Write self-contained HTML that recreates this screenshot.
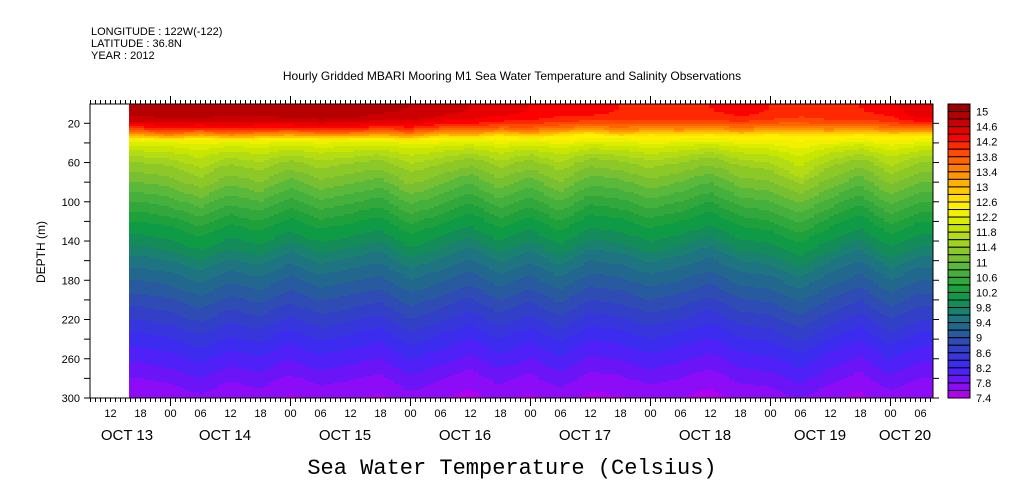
<!DOCTYPE html>
<html><head><meta charset="utf-8">
<style>
body{margin:0;background:#fff;}
svg{display:block;font-family:"Liberation Sans",sans-serif;}
</style></head>
<body>
<svg id="chart" width="1009" height="504" viewBox="0 0 1009 504" xmlns="http://www.w3.org/2000/svg">
<rect x="0" y="0" width="1009" height="504" fill="#fff"/>
<text x="91" y="35" font-size="11">LONGITUDE : 122W(-122)</text>
<text x="91" y="47" font-size="11">LATITUDE : 36.8N</text>
<text x="91" y="59" font-size="11">YEAR : 2012</text>
<text x="512" y="80" font-size="12" text-anchor="middle">Hourly Gridded MBARI Mooring M1 Sea Water Temperature and Salinity Observations</text>
<text transform="translate(45,252) rotate(-90)" font-size="12" text-anchor="middle">DEPTH (m)</text>
<text x="512" y="474" font-family="Liberation Mono, monospace" font-size="22" text-anchor="middle">Sea Water Temperature (Celsius)</text>
<g id="heat"></g>
<g id="axes"></g>
<g id="cbar"></g>
</svg>
<script>
// ---- data ----
// time samples: hours since Oct 13 00:00, every 6 h
var sampleHours = [12,18,24,30,36,42,48,54,60,66,72,78,84,90,96,102,108,114,120,126,132,138,144,150,156,162,168,174,180];
// vertical isotherm displacement (m, positive = deeper)
var isoShift = [0,0,5,16,3,10,-4,8,2,-5,13,3,-9,7,-5,10,-7,-3,7,0,-10,5,9,22,6,-7,13,0,0];
// surface temperature (C)
var surfaceTemp = [14.9,14.9,14.95,14.95,14.9,14.9,14.95,15.0,14.95,14.85,14.8,14.7,14.6,14.5,14.4,14.3,14.3,14.2,14.2,14.2,14.2,14.3,14.2,14.1,14.2,14.2,14.3,14.6,14.6];
// mixed layer depth (m)
var mixedDepth = [36,36,38,36,38,37,36,37,37,36,38,35,36,34,36,34,32,35,33,34,33,34,33,34,34,33,34,33,33];
// deep profile depths (m) and temperatures (C)
var profDepth = [36,45,60,80,100,120,140,160,180,200,220,240,260,280,300,330];
var profTemp = [12.4,11.9,11.4,11.0,10.6,10.2,9.9,9.5,9.2,8.9,8.6,8.3,8.05,7.8,7.6,7.3];
// colour levels
var levelLabels = ["15","14.6","14.2","13.8","13.4","13","12.6","12.2","11.8","11.4","11","10.6","10.2","9.8","9.4","9","8.6","8.2","7.8","7.4"];
var depthTicks = [20,60,100,140,180,220,260,300];
var dateLabels = ["OCT 13","OCT 14","OCT 15","OCT 16","OCT 17","OCT 18","OCT 19","OCT 20"];
var dateLabelX = [127,225,345,465,585,705,820,905];
var palette = ["#9b0000","#b40000","#cc0000","#e60000","#ff0000","#ff2800","#ff4a00","#ff6400","#ff8000","#ff9600","#ffb000","#ffc800","#ffe000","#fff000","#f0f000","#dcee00","#c8e600","#b4dc14","#a0d21e","#8cc828","#78c032","#5ab83a","#46b03c","#32a83c","#1ea03c","#0f9a46","#148c5a","#1a8070","#1e7480","#22688e","#285aa0","#2e4cb4","#3240c8","#3636dc","#3c2cf0","#5020f8","#6c14f8","#8c0cf8","#b000f0"];

// ---- axes ----
var X0=90,X1=933,Y0=104,Y1=398;
var hour0 = 8;
function xOf(h){return X0+(h-hour0)*5;}
function yOf(d){return 123.3+(d-20)*(Y1-123.3)/280;}
function dOf(y){return 20+(y-123.3)*280/(Y1-123.3);}
var NS="http://www.w3.org/2000/svg";
function mk(tag,attrs,parent){var e=document.createElementNS(NS,tag);for(var k in attrs)e.setAttribute(k,attrs[k]);parent.appendChild(e);return e;}
function interp(arr,h){
  if(h<=sampleHours[0])return arr[0];
  for(var i=0;i<sampleHours.length-1;i++){
    if(h<=sampleHours[i+1]){var f=(h-sampleHours[i])/(sampleHours[i+1]-sampleHours[i]);return arr[i]+(arr[i+1]-arr[i])*f;}
  }
  return arr[arr.length-1];
}
function profile(d){
  if(d<=profDepth[0])return profTemp[0];
  for(var i=0;i<profDepth.length-1;i++){
    if(d<=profDepth[i+1]){var f=(d-profDepth[i])/(profDepth[i+1]-profDepth[i]);return profTemp[i]+(profTemp[i+1]-profTemp[i])*f;}
  }
  return profTemp[profTemp.length-1];
}
function temp(h,d){
  var ts=interp(surfaceTemp,h),ml=interp(mixedDepth,h),sh=interp(isoShift,h);
  if(d<ml){var r=d/ml;return ts-(ts-12.4)*r*r*r;}
  var w=Math.min(1,(d-ml)/40);
  return profile(d-sh*w);
}
function colorIdx(t){
  if(t>=15)return 0;
  var i=1+Math.floor((15-t)/0.2);
  return Math.max(1,Math.min(palette.length-1,i));
}

// ---- heatmap ----
var heat=document.getElementById('heat');
var startX=129;
for(var x=startX;x<X1;x+=5){
  var h=hour0+(x+2.5-X0)/5;
  var runStart=Y0,runC=-1;
  for(var y=Y0;y<=Y1;y+=2){
    var c=(y<Y1)?colorIdx(temp(h,dOf(y+1))):-2;
    if(c!==runC){
      if(runC>=0){
        var r=mk('rect',{x:x,y:runStart,width:Math.min(5,X1-x)+0.5,height:y-runStart+0.5,fill:palette[runC]},heat);
        
        
      }
      runStart=y;runC=c;
    }
  }
}

// ---- axes drawing ----
var ax=document.getElementById('axes');
mk('rect',{x:X0,y:Y0,width:X1-X0,height:Y1-Y0,fill:'none',stroke:'#000','stroke-width':1},ax);
for(var hh=hour0;hh<=hour0+(X1-X0)/5;hh++){
  var xx=xOf(hh)+0.5;var big=(hh%24===0);var L=big?8:4;
  mk('line',{x1:xx,y1:Y1,x2:xx,y2:Y1+L,stroke:'#000'},ax);
  mk('line',{x1:xx,y1:Y0,x2:xx,y2:Y0-L,stroke:'#000'},ax);
  if(hh%6===0){
    var lab=['00','06','12','18'][(hh%24)/6];
    var t=mk('text',{x:xx,y:417,'font-size':11,'text-anchor':'middle'},ax);t.textContent=lab;
    
    
  }
}
for(var d=20;d<=300;d+=20){
  var yy=yOf(d);
  mk('line',{x1:X0-6,y1:yy,x2:X0,y2:yy,stroke:'#000'},ax);
  mk('line',{x1:X1,y1:yy,x2:X1+6,y2:yy,stroke:'#000'},ax);
}
depthTicks.forEach(function(d){
  var t=mk('text',{x:80,y:yOf(d)+4,'font-size':11,'text-anchor':'end'},ax);t.textContent=d;
  
  
});
dateLabels.forEach(function(s,i){
  var t=mk('text',{x:dateLabelX[i],y:440,'font-size':15,'text-anchor':'middle'},ax);t.textContent=s;
  
  
});

// ---- colorbar ----
var cb=document.getElementById('cbar');
var CX=948,CW=22,bh=(Y1-Y0)/palette.length;
palette.forEach(function(c,i){
  var r=mk('rect',{x:CX,y:Y0+i*bh,width:CW,height:bh,fill:c,stroke:'#000','stroke-width':1},cb);
  
  
});
levelLabels.forEach(function(s,i){
  var t=mk('text',{x:976,y:Y0+(1+2*i)*bh+4,'font-size':11},cb);t.textContent=s;
  
  
});
</script>
</body></html>
